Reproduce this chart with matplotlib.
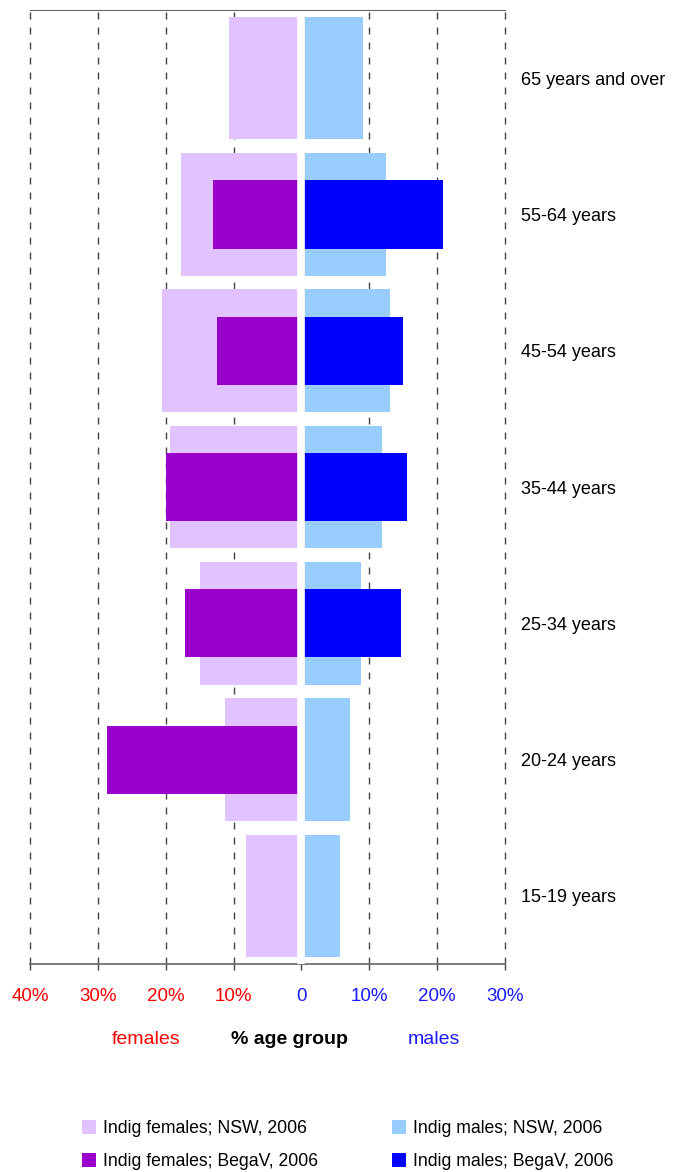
import matplotlib.pyplot as plt
import numpy as np

plt.rcParams['font.family'] = ['Liberation Sans', 'DejaVu Sans']

# age groups, bottom to top
age_groups = ['15-19 years', '20-24 years', '25-34 years', '35-44 years',
              '45-54 years', '55-64 years', '65 years and over']

# % of age group
females_nsw = [8.2, 11.2, 14.9, 19.4, 20.6, 17.8, 10.7]
females_bega = [0, 28.7, 17.1, 19.9, 12.5, 13.0, 0]
males_nsw = [5.7, 7.1, 8.8, 11.9, 13.0, 12.5, 9.1]
males_bega = [0, 0, 14.7, 15.5, 14.9, 20.9, 0]

xticks = [-40, -30, -20, -10, 0, 10, 20, 30]
xtick_labels = ['40%', '30%', '20%', '10%', '0', '10%', '20%', '30%']

fig = plt.figure(figsize=(6.76, 11.72), dpi=100)
ax = fig.add_axes([30 / 676, 1 - 964 / 1172, 475 / 676, 954 / 1172])

y = np.arange(len(age_groups))

# dashed grid lines behind the bars
for x in xticks:
    if x != 0:
        ax.axvline(x, color='#444444', lw=1, dashes=(5, 5.8), zorder=0, clip_on=False)

ax.barh(y, -np.array(females_nsw), height=0.9, color='#E0C3FF', zorder=1,
        label='Indig females; NSW, 2006')
ax.barh(y, -np.array(females_bega), height=0.5, color='#9900CC', zorder=1.5,
        label='Indig females; BegaV, 2006')
ax.barh(y, males_nsw, height=0.9, color='#99CCFF', zorder=1,
        label='Indig males; NSW, 2006')
ax.barh(y, males_bega, height=0.5, color='#0000FF', zorder=1.5,
        label='Indig males; BegaV, 2006')

# white gap between females and males
ax.axvline(0, ymin=0, ymax=0.992, color='white', lw=5.5, zorder=3)

ax.set_xlim(-40, 30)
ax.set_ylim(-0.5, len(age_groups) - 0.5)

ax.spines['left'].set_visible(False)
ax.spines['right'].set_visible(False)
ax.spines['top'].set_color('#666666')
ax.spines['bottom'].set_color('#666666')
ax.spines['bottom'].set_linewidth(1.2)

ax.set_xticks(xticks)
ax.set_xticklabels(xtick_labels, fontsize=13.5)
ax.tick_params(axis='x', direction='out', length=4, width=1, color='#444444', pad=13)
for lbl, x in zip(ax.get_xticklabels(), xticks):
    lbl.set_color('#FF0000' if x < 0 else '#1A1AFF')

ax.yaxis.tick_right()
ax.set_yticks(y)
ax.set_yticklabels(age_groups, fontsize=13)
ax.tick_params(axis='y', length=0, pad=11.5)

# axis captions
fig.text(146 / 676, 1 - 1040 / 1172, 'females', color='#FF0000', fontsize=14,
         ha='center', va='center')
fig.text(289 / 676, 1 - 1040 / 1172, '% age group', color='black', fontsize=14,
         fontweight='bold', ha='center', va='center')
fig.text(434 / 676, 1 - 1040 / 1172, 'males', color='#1A1AFF', fontsize=14,
         ha='center', va='center')

handles, labels = ax.get_legend_handles_labels()
fig.legend(handles, labels, ncol=2, loc='center', bbox_to_anchor=(0.514, 1 - 1145 / 1172),
           frameon=False, fontsize=12.7, handlelength=0.8, handleheight=0.8,
           handletextpad=0.4, columnspacing=4.2, labelspacing=0.9)

fig.savefig('out.png', dpi=100)
